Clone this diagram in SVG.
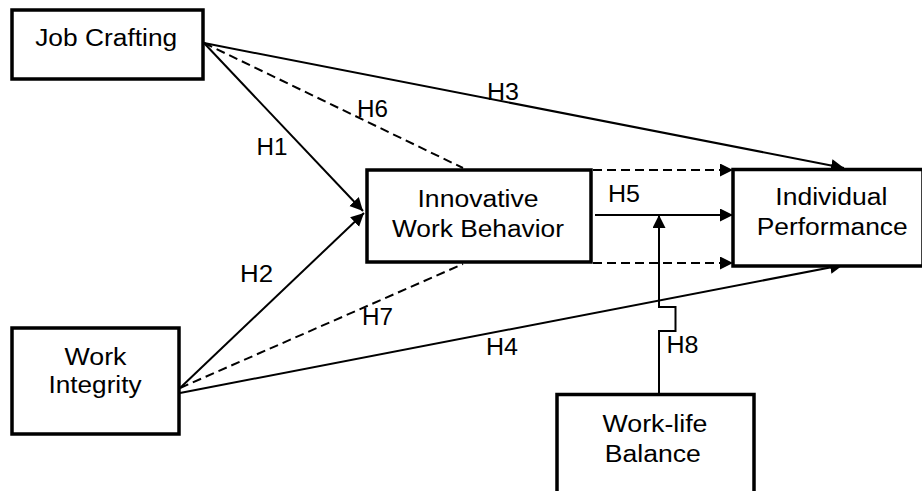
<svg xmlns="http://www.w3.org/2000/svg" width="922" height="491" viewBox="0 0 922 491">
<style>
.box{fill:#fff;stroke:#000;stroke-width:3.5}
.t{font-family:"Liberation Sans",Arial,sans-serif;font-size:23px;fill:#000;text-anchor:middle}
.c{fill:none;stroke:#000;stroke-width:2}
.d{stroke-dasharray:9 5}
</style>
<defs>
<marker id="ah" markerUnits="userSpaceOnUse" markerWidth="14" markerHeight="14" refX="13" refY="6.5" orient="auto">
<path d="M0,0 L13,6.5 L0,13 z" fill="#000"/>
</marker>
</defs>
<rect width="922" height="491" fill="#fff"/>
<g id="connectors">
<line class="c" x1="204" y1="43" x2="363" y2="211" marker-end="url(#ah)"/>
<line class="c d" x1="204" y1="43" x2="463" y2="168"/>
<line class="c" x1="204" y1="43" x2="844" y2="168" marker-end="url(#ah)"/>
<line class="c" x1="180" y1="388" x2="364" y2="213" marker-end="url(#ah)"/>
<line class="c d" x1="180" y1="388" x2="463" y2="264"/>
<line class="c" x1="180" y1="393" x2="843" y2="265" marker-end="url(#ah)"/>
<line class="c d" x1="593" y1="170" x2="733" y2="170" marker-end="url(#ah)"/>
<line class="c" x1="595" y1="215" x2="733" y2="215" marker-end="url(#ah)"/>
<line class="c d" x1="593" y1="263" x2="733" y2="263" marker-end="url(#ah)"/>
<path class="c" d="M659,394 V331 H675.5 V307 H659 V215" marker-end="url(#ah)"/>
</g>
<g id="labels">
<text class="t" x="272" y="155" textLength="31" lengthAdjust="spacingAndGlyphs">H1</text>
<text class="t" x="372.5" y="117" textLength="31" lengthAdjust="spacingAndGlyphs">H6</text>
<text class="t" x="503" y="99.5" textLength="32" lengthAdjust="spacingAndGlyphs">H3</text>
<text class="t" x="624" y="201.5" textLength="32" lengthAdjust="spacingAndGlyphs">H5</text>
<text class="t" x="256.5" y="281.5" textLength="33" lengthAdjust="spacingAndGlyphs">H2</text>
<text class="t" x="377.5" y="325" textLength="31" lengthAdjust="spacingAndGlyphs">H7</text>
<text class="t" x="502" y="355" textLength="32" lengthAdjust="spacingAndGlyphs">H4</text>
<text class="t" x="682.5" y="353" textLength="32" lengthAdjust="spacingAndGlyphs">H8</text>
</g>
<g id="job-crafting">
<rect class="box" x="12" y="10" width="191" height="69"/>
<text class="t" x="106.2" y="46" textLength="142" lengthAdjust="spacingAndGlyphs">Job Crafting</text>
</g>
<g id="innovative-work-behavior">
<rect class="box" x="367" y="170" width="224" height="92"/>
<text class="t" x="478" y="207" textLength="121" lengthAdjust="spacingAndGlyphs">Innovative</text>
<text class="t" x="478" y="236.7" textLength="172" lengthAdjust="spacingAndGlyphs">Work Behavior</text>
</g>
<g id="individual-performance">
<rect class="box" x="733" y="169.5" width="190" height="96.5"/>
<text class="t" x="831.3" y="205" textLength="112" lengthAdjust="spacingAndGlyphs">Individual</text>
<text class="t" x="832.2" y="235" textLength="151" lengthAdjust="spacingAndGlyphs">Performance</text>
</g>
<g id="work-integrity">
<rect class="box" x="12" y="328" width="167" height="106"/>
<text class="t" x="95.5" y="365" textLength="62" lengthAdjust="spacingAndGlyphs">Work</text>
<text class="t" x="95" y="393.3" textLength="93" lengthAdjust="spacingAndGlyphs">Integrity</text>
</g>
<g id="work-life-balance">
<rect class="box" x="557" y="394.5" width="197" height="110"/>
<text class="t" x="655" y="431.7" textLength="105" lengthAdjust="spacingAndGlyphs">Work-life</text>
<text class="t" x="652.8" y="461.7" textLength="96" lengthAdjust="spacingAndGlyphs">Balance</text>
</g>
</svg>
